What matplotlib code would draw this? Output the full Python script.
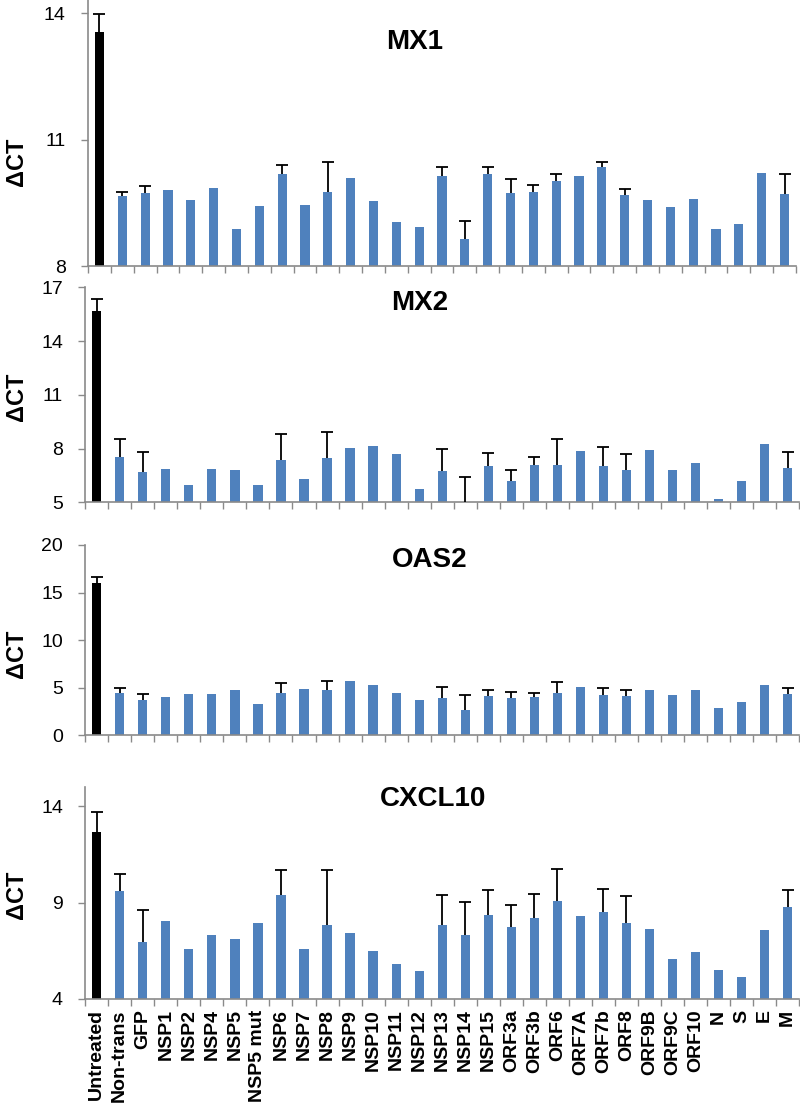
import numpy as np
import matplotlib
matplotlib.use("Agg")
import matplotlib.pyplot as plt

plt.rcParams['font.family'] = ['Liberation Sans', 'DejaVu Sans']

# Categories (x axis)
categories = ["Untreated", "Non-trans", "GFP", "NSP1", "NSP2", "NSP4", "NSP5",
              "NSP5 mut", "NSP6", "NSP7", "NSP8", "NSP9", "NSP10", "NSP11",
              "NSP12", "NSP13", "NSP14", "NSP15", "ORF3a", "ORF3b", "ORF6",
              "ORF7A", "ORF7b", "ORF8", "ORF9B", "ORF9C", "ORF10", "N", "S",
              "E", "M"]

# Delta CT values (0 error = no error bar)
mx1 = [13.56, 9.67, 9.73, 9.80, 9.56, 9.86, 8.89, 9.42, 10.18, 9.44, 9.77,
       10.10, 9.54, 9.04, 8.92, 10.15, 8.65, 10.19, 9.73, 9.75, 10.01, 10.15,
       10.35, 9.68, 9.58, 9.41, 9.59, 8.89, 9.01, 10.21, 9.72]
mx1_err = [0.42, 0.08, 0.17, 0, 0, 0, 0, 0, 0.21, 0, 0.71,
           0, 0, 0, 0, 0.20, 0.43, 0.17, 0.33, 0.17, 0.17, 0,
           0.13, 0.14, 0, 0, 0, 0, 0, 0, 0.46]

mx2 = [15.66, 7.53, 6.71, 6.88, 5.95, 6.84, 6.80, 5.95, 7.34, 6.32, 7.49,
       8.01, 8.13, 7.68, 5.74, 6.75, 5.02, 7.05, 6.19, 7.07, 7.08, 7.87,
       7.01, 6.79, 7.90, 6.79, 7.18, 5.19, 6.21, 8.24, 6.92]
mx2_err = [0.71, 1.00, 1.10, 0, 0, 0, 0, 0, 1.47, 0, 1.42,
           0, 0, 0, 0, 1.21, 1.41, 0.69, 0.61, 0.45, 1.43, 0,
           1.10, 0.89, 0, 0, 0, 0, 0, 0, 0.87]

oas2 = [16.0, 4.46, 3.68, 3.96, 4.35, 4.35, 4.77, 3.30, 4.46, 4.84, 4.70,
        5.68, 5.23, 4.46, 3.72, 3.89, 2.60, 4.14, 3.89, 4.00, 4.42, 5.02,
        4.21, 4.14, 4.77, 4.21, 4.77, 2.84, 3.47, 5.26, 4.35]
oas2_err = [0.67, 0.52, 0.60, 0, 0, 0, 0, 0, 1.05, 0, 1.02,
            0, 0, 0, 0, 1.16, 1.58, 0.60, 0.63, 0.39, 1.12, 0,
            0.74, 0.60, 0, 0, 0, 0, 0, 0, 0.60]

cxcl10 = [12.65, 9.61, 6.94, 8.07, 6.60, 7.34, 7.10, 7.94, 9.40, 6.60, 7.84,
          7.41, 6.49, 5.83, 5.45, 7.82, 7.34, 8.34, 7.74, 8.19, 9.07, 8.33,
          8.52, 7.93, 7.62, 6.08, 6.46, 5.51, 5.16, 7.58, 8.78]
cxcl10_err = [1.04, 0.85, 1.68, 0, 0, 0, 0, 0, 1.28, 0, 2.87,
              0, 0, 0, 0, 1.58, 1.71, 1.32, 1.14, 1.24, 1.68, 0,
              1.21, 1.42, 0, 0, 0, 0, 0, 0, 0.85]

panels = [
    # name, values, errors, ylim, yticks, axes rect, title pos, ylabel y
    ("MX1", mx1, mx1_err, (8, 14.32), [8, 11, 14],
     [0.110, 0.7588, 0.885, 0.2412], (0.462, 0.842), 0.391),
    ("MX2", mx2, mx2_err, (5, 17), [5, 8, 11, 14, 17],
     [0.1065, 0.5446, 0.8925, 0.1949], (0.469, 0.926), 0.49),
    ("OAS2", oas2, oas2_err, (0, 20), [0, 5, 10, 15, 20],
     [0.1065, 0.3336, 0.8925, 0.1723], (0.482, 0.921), 0.426),
    ("CXCL10", cxcl10, cxcl10_err, (4, 15), [4, 9, 14],
     [0.1065, 0.0943, 0.8925, 0.1922], (0.487, 0.943), 0.493),
]

blue = "#4F81BD"
colors = ["black"] + [blue] * (len(categories) - 1)
x = np.arange(len(categories))

fig = plt.figure(figsize=(8, 11.03), dpi=100)

for i, (name, vals, errs, ylim, yticks, rect, tpos, ylab_y) in enumerate(panels):
    ax = fig.add_axes(rect)
    vals = np.array(vals)
    errs = np.array(errs)
    ax.bar(x, vals - ylim[0], bottom=ylim[0], width=0.4, color=colors, zorder=2)

    # upper error bars only
    has = errs > 0
    eb = ax.errorbar(x[has], vals[has], yerr=[np.zeros(has.sum()), errs[has]],
                     fmt="none", ecolor="black", elinewidth=1.3, capsize=4,
                     capthick=1.3, zorder=3)
    eb[1][0].set_visible(False)  # hide the lower caps

    ax.set_xlim(-0.5, len(categories) - 0.5)
    ax.set_ylim(*ylim)
    ax.set_yticks(yticks)
    ax.tick_params(axis="y", direction="out", length=5, width=1,
                   color="#8a8a8a", labelsize=14, pad=11)

    ax.set_xticks(x)
    ax.set_xticks(np.arange(len(categories) + 1) - 0.5, minor=True)
    ax.tick_params(axis="x", which="major", length=0, pad=7.5)
    ax.tick_params(axis="x", which="minor", direction="out", length=5,
                   width=1, color="#8a8a8a")
    if i == len(panels) - 1:
        ax.set_xticklabels(categories, rotation=90, fontsize=14,
                           fontweight="bold", va="top")
    else:
        ax.set_xticklabels([])

    for s in ["top", "right"]:
        ax.spines[s].set_visible(False)
    for s in ["left", "bottom"]:
        ax.spines[s].set_color("#8a8a8a")
        ax.spines[s].set_linewidth(1.2)

    ax.text(tpos[0], tpos[1], name, transform=ax.transAxes, ha="center",
            va="center", fontsize=20, fontweight="bold")
    ax.set_ylabel("ΔCT", fontsize=17, fontweight="bold")
    ax.yaxis.set_label_coords((28 / 800 - rect[0]) / rect[2], ylab_y)

fig.savefig("out.png", dpi=100)
